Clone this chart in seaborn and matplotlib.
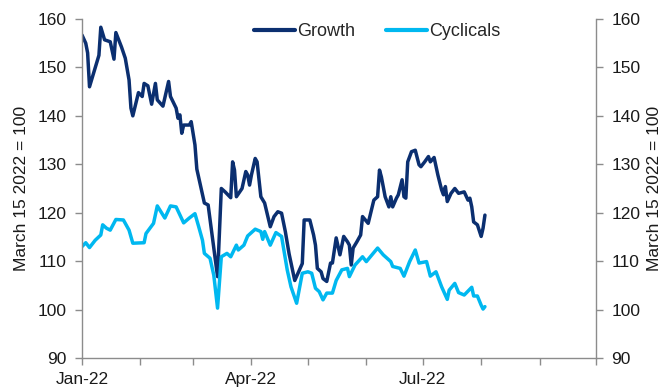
import matplotlib
matplotlib.use("Agg")
import matplotlib.pyplot as plt
import matplotlib.dates as mdates
import seaborn as sns
import pandas as pd

sns.set_theme(style="white")
plt.rcParams['font.family'] = ['Liberation Sans', 'DejaVu Sans']

growth_dates = [
    "2022-01-01", "2022-01-03", "2022-01-04", "2022-01-05", "2022-01-10", "2022-01-11",
    "2022-01-13", "2022-01-16", "2022-01-18", "2022-01-19", "2022-01-22", "2022-01-24",
    "2022-01-26", "2022-01-27", "2022-01-28", "2022-01-31", "2022-02-02", "2022-02-03",
    "2022-02-05", "2022-02-07", "2022-02-09", "2022-02-10", "2022-02-13", "2022-02-16",
    "2022-02-17", "2022-02-20", "2022-02-21", "2022-02-22", "2022-02-23", "2022-02-24",
    "2022-02-27", "2022-02-28", "2022-03-02", "2022-03-03", "2022-03-07", "2022-03-09",
    "2022-03-14", "2022-03-16", "2022-03-18", "2022-03-21", "2022-03-22", "2022-03-23",
    "2022-03-24", "2022-03-27", "2022-03-29", "2022-03-30", "2022-03-31", "2022-04-01",
    "2022-04-03", "2022-04-04", "2022-04-06", "2022-04-08", "2022-04-11", "2022-04-13",
    "2022-04-15", "2022-04-17", "2022-04-19", "2022-04-21", "2022-04-24", "2022-04-28",
    "2022-04-29", "2022-05-02", "2022-05-04", "2022-05-05", "2022-05-06", "2022-05-08",
    "2022-05-09", "2022-05-11", "2022-05-13", "2022-05-14", "2022-05-16", "2022-05-18",
    "2022-05-20", "2022-05-22", "2022-05-23", "2022-05-24", "2022-05-25", "2022-05-27",
    "2022-05-29", "2022-05-30", "2022-06-02", "2022-06-05", "2022-06-07", "2022-06-08",
    "2022-06-09", "2022-06-11", "2022-06-13", "2022-06-14", "2022-06-15", "2022-06-17",
    "2022-06-18", "2022-06-20", "2022-06-21", "2022-06-22", "2022-06-23", "2022-06-25",
    "2022-06-27", "2022-06-29", "2022-06-30", "2022-07-02", "2022-07-04", "2022-07-05",
    "2022-07-07", "2022-07-09", "2022-07-11", "2022-07-12", "2022-07-13", "2022-07-14",
    "2022-07-16", "2022-07-18", "2022-07-20", "2022-07-23", "2022-07-25", "2022-07-26",
    "2022-07-27", "2022-07-28", "2022-07-30", "2022-08-01", "2022-08-02", "2022-08-03",
]
growth_values = [
    156.7, 155.0, 153.0, 146.0, 152.5, 158.3,
    155.7, 155.3, 151.7, 157.2, 154.2, 151.9,
    147.4, 141.6, 140.0, 144.8, 144.0, 146.7,
    146.2, 142.4, 146.7, 143.3, 142.0, 147.1,
    144.0, 141.6, 139.5, 140.2, 136.4, 138.1,
    138.1, 138.8, 134.0, 129.0, 122.0, 121.6,
    106.8, 125.0, 124.3, 123.1, 130.5, 128.8,
    123.3, 125.0, 128.5, 127.8, 125.7, 127.8,
    131.2, 130.5, 123.3, 122.0, 117.1, 119.2,
    120.2, 119.9, 116.1, 111.5, 106.0, 109.5,
    118.5, 118.5, 115.4, 113.3, 108.5, 107.8,
    106.4, 105.8, 109.6, 109.6, 114.8, 111.3,
    115.1, 114.0, 113.3, 109.2, 112.7, 114.0,
    115.4, 119.2, 117.8, 122.6, 123.3, 128.8,
    127.4, 123.3, 121.2, 123.3, 121.2, 123.0,
    123.7, 126.8, 123.3, 123.0, 130.5, 132.6,
    132.9, 129.9, 129.5, 130.5, 131.6, 130.5,
    131.4, 127.8, 124.7, 123.7, 125.4, 122.3,
    124.0, 125.0, 124.0, 124.3, 122.6, 123.0,
    121.2, 118.1, 117.5, 115.1, 116.8, 119.5,
]

cyc_dates = [
    "2022-01-01", "2022-01-03", "2022-01-05", "2022-01-08", "2022-01-11", "2022-01-12",
    "2022-01-14", "2022-01-16", "2022-01-19", "2022-01-23", "2022-01-26", "2022-01-28",
    "2022-02-03", "2022-02-04", "2022-02-08", "2022-02-10", "2022-02-14", "2022-02-17",
    "2022-02-20", "2022-02-24", "2022-02-27", "2022-03-02", "2022-03-04", "2022-03-06",
    "2022-03-07", "2022-03-10", "2022-03-12", "2022-03-14", "2022-03-16", "2022-03-19",
    "2022-03-21", "2022-03-24", "2022-03-25", "2022-03-28", "2022-03-30", "2022-04-03",
    "2022-04-06", "2022-04-07", "2022-04-08", "2022-04-11", "2022-04-14", "2022-04-17",
    "2022-04-20", "2022-04-22", "2022-04-25", "2022-04-28", "2022-05-01", "2022-05-03",
    "2022-05-05", "2022-05-07", "2022-05-09", "2022-05-11", "2022-05-14", "2022-05-16",
    "2022-05-19", "2022-05-22", "2022-05-23", "2022-05-26", "2022-05-30", "2022-06-01",
    "2022-06-04", "2022-06-07", "2022-06-10", "2022-06-14", "2022-06-15", "2022-06-19",
    "2022-06-21", "2022-06-24", "2022-06-27", "2022-06-29", "2022-07-03", "2022-07-05",
    "2022-07-08", "2022-07-11", "2022-07-14", "2022-07-15", "2022-07-18", "2022-07-20",
    "2022-07-23", "2022-07-27", "2022-07-28", "2022-07-30", "2022-08-01", "2022-08-02",
    "2022-08-03",
]
cyc_values = [
    113.0, 113.8, 112.8, 114.3, 115.4, 117.5,
    116.8, 116.4, 118.6, 118.5, 116.4, 113.7,
    113.8, 115.7, 117.8, 121.4, 118.9, 121.4,
    121.2, 117.9, 118.9, 119.8, 117.1, 114.3,
    111.6, 110.6, 107.1, 100.3, 110.9, 111.6,
    110.9, 113.3, 112.3, 113.3, 115.2, 116.6,
    116.1, 114.5, 116.1, 113.3, 115.9, 115.1,
    108.2, 104.7, 101.3, 107.5, 107.8, 107.5,
    104.4, 103.7, 102.0, 103.4, 103.4, 106.0,
    108.2, 108.5, 106.8, 109.2, 110.9, 109.9,
    111.3, 112.7, 111.3, 109.9, 108.9, 108.5,
    106.9, 109.9, 112.3, 109.6, 109.9, 106.9,
    107.8, 104.7, 102.1, 104.0, 105.4, 103.5,
    103.0, 104.6, 102.8, 102.8, 100.9, 100.1,
    100.6,
]

series_names = ["Growth", "Cyclicals"]
colors = ["#0B2F70", "#00B8F0"]
y_ticks = [90, 100, 110, 120, 130, 140, 150, 160]
y_label = "March 15 2022 = 100"
x_start, x_end = "2022-01-01", "2022-10-01"

df = pd.concat([
    pd.DataFrame({"date": pd.to_datetime(growth_dates), "value": growth_values, "series": series_names[0]}),
    pd.DataFrame({"date": pd.to_datetime(cyc_dates), "value": cyc_values, "series": series_names[1]}),
])

fig = plt.figure(figsize=(6.67, 3.9), dpi=100)
ax = fig.add_axes([0.1229, 0.0821, 0.7707, 0.8692])

sns.lineplot(data=df, x="date", y="value", hue="series", palette=colors,
             hue_order=series_names, linewidth=2.5, ax=ax, estimator=None, sort=True)

ax.set_xlim(pd.Timestamp(x_start), pd.Timestamp(x_end))
ax.set_ylim(90, 160)
ax.set_yticks(y_ticks)

ax.xaxis.set_major_locator(mdates.MonthLocator(bymonth=[1, 4, 7]))
ax.xaxis.set_major_formatter(mdates.DateFormatter("%b-%y"))
ax.xaxis.set_minor_locator(mdates.MonthLocator())

gray = "#8C8C8C"
fs = 12.5
txt = "#1a1a1a"
for side in ["top", "right"]:
    ax.spines[side].set_visible(False)
for side in ["left", "bottom"]:
    ax.spines[side].set_color(gray)
    ax.spines[side].set_linewidth(1.0)

ax.tick_params(axis="y", which="both", direction="out", length=5, width=1, color=gray,
               left=True, labelsize=fs, labelcolor=txt, pad=6)
ax.tick_params(axis="x", which="both", direction="out", length=5, width=1, color=gray,
               bottom=True, labelsize=fs, labelcolor=txt, pad=5)
ax.set_xlabel("")
ax.set_ylabel(y_label, fontsize=fs, color=txt, labelpad=6)
ax.grid(False)

ax2 = ax.twinx()
ax2.set_ylim(90, 160)
ax2.set_yticks(y_ticks)
for side in ["top", "left", "bottom"]:
    ax2.spines[side].set_visible(False)
ax2.spines["right"].set_color(gray)
ax2.spines["right"].set_linewidth(1.0)
ax2.tick_params(axis="y", direction="out", length=5, width=1, color=gray, right=True,
                labelsize=fs, labelcolor=txt, pad=6)
ax2.set_ylabel(y_label, fontsize=fs, color=txt, labelpad=5)
ax2.grid(False)

handles, labels = ax.get_legend_handles_labels()
for h in handles:
    h.set_linewidth(3)
ax.legend(handles, labels, loc="upper center", bbox_to_anchor=(0.574, 1.035), ncol=2,
          frameon=False, fontsize=13, handlelength=2.3, handletextpad=0.1,
          columnspacing=1.7)

fig.savefig("out.png", dpi=100)
